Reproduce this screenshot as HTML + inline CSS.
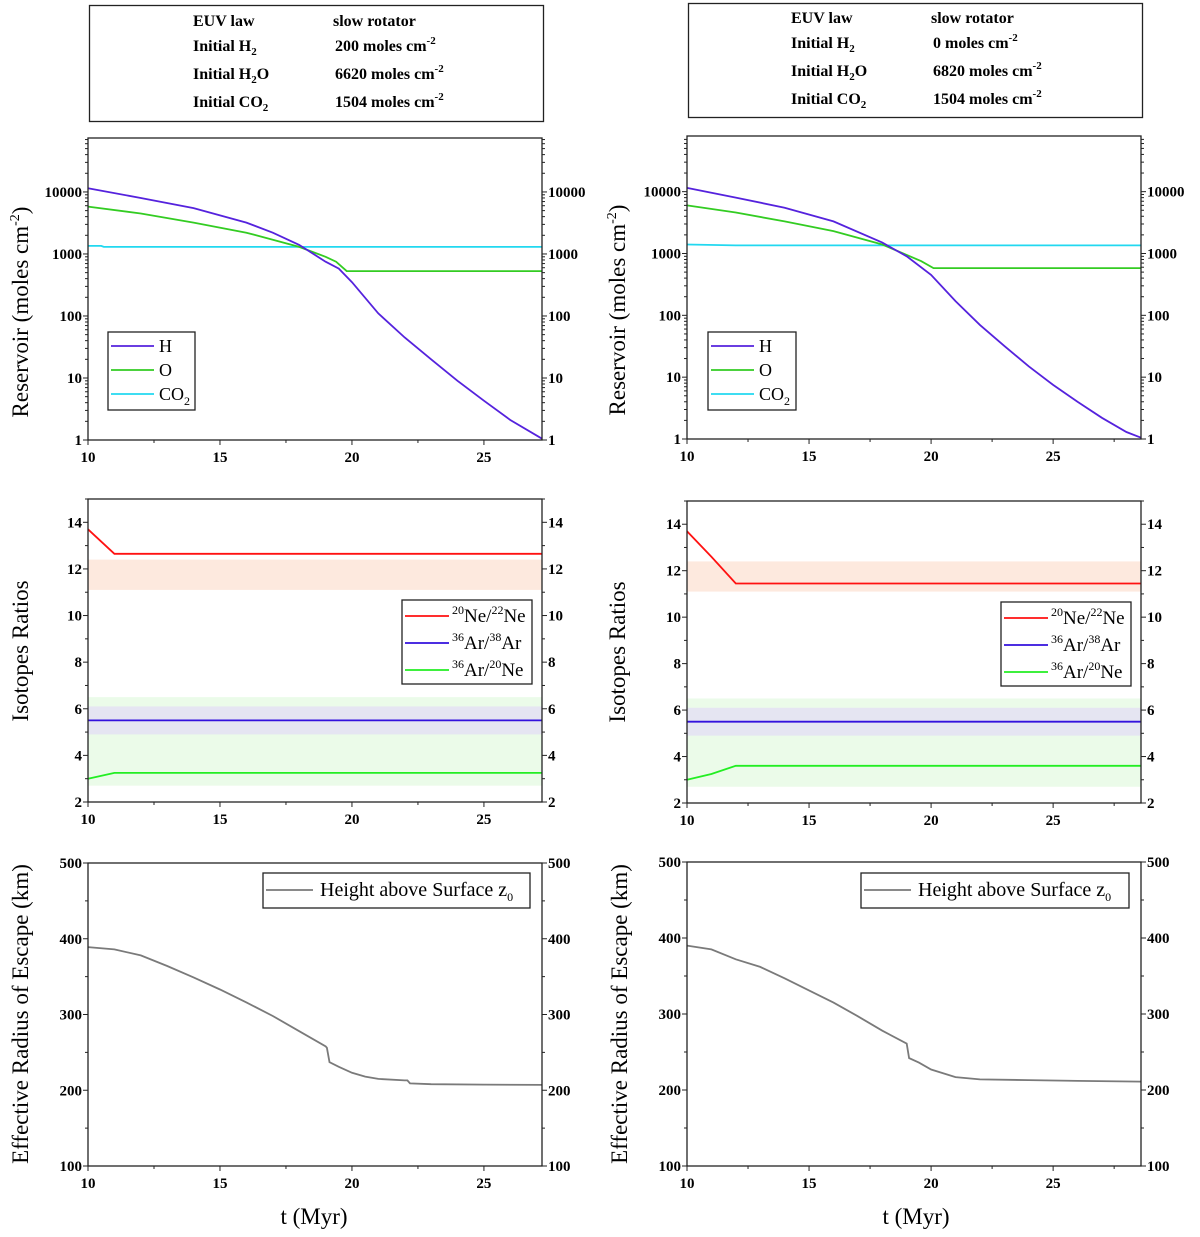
<!DOCTYPE html>
<html><head><meta charset="utf-8"><style>
html,body{margin:0;padding:0;background:#fff}
svg{display:block}
text{font-family:"Liberation Serif",serif}
.tk{font-weight:bold;font-size:15px}
</style></head><body>
<svg id="fig" width="1200" height="1237" viewBox="0 0 1200 1237" xmlns="http://www.w3.org/2000/svg">
<g>
<rect x="89.5" y="5.5" width="454" height="116" fill="#fff" stroke="#222" stroke-width="1.3"/>
<text x="193" y="26" font-weight="bold" font-size="16">EUV law</text><text x="333" y="26" font-weight="bold" font-size="16">slow rotator</text>
<text x="193" y="51" font-weight="bold" font-size="16">Initial H<tspan font-size="11" dy="4">2</tspan></text><text x="335" y="51" font-weight="bold" font-size="16">200 moles cm<tspan font-size="11" dy="-7">-2</tspan></text>
<text x="193" y="79" font-weight="bold" font-size="16">Initial H<tspan font-size="11" dy="4">2</tspan><tspan dy="-4">O</tspan></text><text x="335" y="79" font-weight="bold" font-size="16">6620 moles cm<tspan font-size="11" dy="-7">-2</tspan></text>
<text x="193" y="107" font-weight="bold" font-size="16">Initial CO<tspan font-size="11" dy="4">2</tspan></text><text x="335" y="107" font-weight="bold" font-size="16">1504 moles cm<tspan font-size="11" dy="-7">-2</tspan></text>
</g>
<g>
<rect x="688.5" y="3.5" width="454" height="114" fill="#fff" stroke="#222" stroke-width="1.3"/>
<text x="791" y="23" font-weight="bold" font-size="16">EUV law</text><text x="931" y="23" font-weight="bold" font-size="16">slow rotator</text>
<text x="791" y="48" font-weight="bold" font-size="16">Initial H<tspan font-size="11" dy="4">2</tspan></text><text x="933" y="48" font-weight="bold" font-size="16">0 moles cm<tspan font-size="11" dy="-7">-2</tspan></text>
<text x="791" y="76" font-weight="bold" font-size="16">Initial H<tspan font-size="11" dy="4">2</tspan><tspan dy="-4">O</tspan></text><text x="933" y="76" font-weight="bold" font-size="16">6820 moles cm<tspan font-size="11" dy="-7">-2</tspan></text>
<text x="791" y="104" font-weight="bold" font-size="16">Initial CO<tspan font-size="11" dy="4">2</tspan></text><text x="933" y="104" font-weight="bold" font-size="16">1504 moles cm<tspan font-size="11" dy="-7">-2</tspan></text>
</g>
</svg>
<script>
// ---- data ----
const resL_H_t=[10,12,14,16,17,18,19,19.5,20,21,22,23,24,25,26,27.2];
const resL_H_v=[11500,8000,5500,3200,2200,1400,750,580,350,110,45,20,9,4.3,2.1,1.05];
const resL_O_t=[10,12,14,16,17,18,19,19.4,19.8,27.2];
const resL_O_v=[5800,4500,3200,2200,1700,1300,900,750,530,530];
const resL_C_t=[10,10.5,10.6,27.2];
const resL_C_v=[1350,1350,1300,1300];
const resR_H_t=[10,12,14,16,18,19,20,21,22,23,24,25,26,27,28,28.6];
const resR_H_v=[11500,8000,5500,3300,1500,900,450,170,70,32,15,7.5,4,2.2,1.3,1.05];
const resR_O_t=[10,12,14,16,18,19,19.6,20.1,28.6];
const resR_O_v=[6000,4600,3300,2300,1400,950,750,580,580];
const resR_C_t=[10,12,28.6];
const resR_C_v=[1400,1350,1350];
const isoL_Ne_t=[10,11,27.2], isoL_Ne_v=[13.7,12.65,12.65];
const isoL_Ar_t=[10,27.2], isoL_Ar_v=[5.5,5.5];
const isoL_AN_t=[10,11,27.2], isoL_AN_v=[3.0,3.25,3.25];
const isoR_Ne_t=[10,11,12,28.6], isoR_Ne_v=[13.7,12.6,11.45,11.45];
const isoR_Ar_t=[10,28.6], isoR_Ar_v=[5.5,5.5];
const isoR_AN_t=[10,11,12,28.6], isoR_AN_v=[3.0,3.25,3.6,3.6];
const bands=[[2.7,6.5],[11.1,12.4],[4.9,6.1]];
const radL_t=[10,11,12,13,14,15,16,17,18,19,19.05,19.15,19.5,20,20.5,21,22,22.1,22.2,23,25,27.2];
const radL_v=[389,386,378,364,349,333,316,298,278,258,256,237,231,223,218,215,213,213,209,208,207.5,207];
const radR_t=[10,11,12,13,14,15,16,17,18,19,19.1,19.5,20,21,22,24,26,28.6];
const radR_v=[390,385,372,362,347,331,315,297,278,261,242,236,227,217,214,213,212,211];
const xTicks=[10,15,20,25];
const logTicks=[1,10,100,1000,10000];
const isoTicks=[2,4,6,8,10,12,14];
const radTicks=[100,200,300,400,500];

const svg=document.getElementById('fig');
const NS='http://www.w3.org/2000/svg';
function el(tag,attrs,parent){const e=document.createElementNS(NS,tag);for(const k in attrs)e.setAttribute(k,attrs[k]);(parent||svg).appendChild(e);return e;}

function panel(o){
  const g=el('g',{});
  
  
  const X=t=>o.x0+(t-10)/(o.xmax-10)*(o.x1-o.x0);
  const Y=o.log?(v=>o.y1-(Math.log10(v)-Math.log10(o.ymin))/(Math.log10(o.ymax)-Math.log10(o.ymin))*(o.y1-o.y0))
               :(v=>o.y1-(v-o.ymin)/(o.ymax-o.ymin)*(o.y1-o.y0));
  (o.bands||[]).forEach((b,i)=>{
    const r=el('rect',{x:o.x0,y:Y(b[1]),width:o.x1-o.x0,height:Y(b[0])-Y(b[1]),fill:o.bandCols[i]},g);
    
    
  });
  o.series.forEach(s=>{
    const p=el('polyline',{points:s.t.map((t,i)=>X(t).toFixed(1)+','+Y(s.v[i]).toFixed(1)).join(' '),fill:'none',stroke:s.c,'stroke-width':1.8},g);
    
    
  });
  el('rect',{x:o.x0,y:o.y0,width:o.x1-o.x0,height:o.y1-o.y0,fill:'none',stroke:'#222','stroke-width':1.3},g);
  for(let t=10;t<=o.xmax+1e-6;t+=2.5){
    const maj=(t%5===0);
    el('line',{x1:X(t),x2:X(t),y1:o.y1,y2:o.y1+(maj?5:3),stroke:'#222','stroke-width':1},g);
  }
  xTicks.forEach(t=>{const tx=el('text',{x:X(t),y:o.y1+22,'text-anchor':'middle',class:'tk'},g);tx.textContent=t;
    
    });
  const addY=(v,maj)=>{[[o.x0,-1],[o.x1,1]].forEach(([x,d])=>el('line',{x1:x,x2:x+d*(maj?5:3),y1:Y(v),y2:Y(v),stroke:'#222','stroke-width':1},g));};
  if(o.log){for(let d=0;d<5;d++)for(let m=1;m<10;m++){const v=m*Math.pow(10,d);if(v<=o.ymax)addY(v,m===1);}}
  else{for(let v=o.ymin;v<=o.ymax+1e-6;v+=o.minor)addY(v,Math.abs((v-o.ymin)/o.major-Math.round((v-o.ymin)/o.major))<1e-6);}
  o.ticks.forEach(v=>{
    const a=el('text',{x:o.x0-6,y:Y(v)+5,'text-anchor':'end',class:'tk'},g);a.textContent=v;
    
    
    const b=el('text',{x:o.x1+6,y:Y(v)+5,'text-anchor':'start',class:'tk'},g);b.textContent=v;
    
    
  });
  return g;
}
function ytitle(x,y,html,name){
  const t=el('text',{transform:`translate(${x},${y}) rotate(-90)`,'text-anchor':'middle','font-size':'23'});
  t.innerHTML=html;
  
  
}
function legend(x,y,w,h,items,name,fs){
  const g=el('g',{});
  
  
  el('rect',{x:x,y:y,width:w,height:h,fill:'#fff',stroke:'#222','stroke-width':1.3},g);
  items.forEach(it=>{
    el('line',{x1:x+it.lx0,x2:x+it.lx1,y1:y+it.y,y2:y+it.y,stroke:it.c,'stroke-width':1.8},g);
    const t=el('text',{x:x+it.tx,y:y+it.y+6,'font-size':fs},g);t.innerHTML=it.txt;
  });
}
const sub=s=>`<tspan font-size="12" dy="5">${s}</tspan>`;
const sup=s=>`<tspan font-size="12" dy="-8">${s}</tspan><tspan dy="8">`;
const bandCols=['#ebfbe9','#fde9de','#e5e5f2'];
panel({name:'reservoir-chart-left',x0:88,x1:542,y0:138,y1:440,xmax:27.2,log:true,ymin:1,ymax:Math.pow(10,4.87),ticks:logTicks,
  series:[{t:resL_C_t,v:resL_C_v,c:'#22d8f0',n:'co2-line'},{t:resL_O_t,v:resL_O_v,c:'#33cc22',n:'o-line'},{t:resL_H_t,v:resL_H_v,c:'#5522dd',n:'h-line'}]});
panel({name:'reservoir-chart-right',x0:687,x1:1141,y0:136,y1:439,xmax:28.6,log:true,ymin:1,ymax:Math.pow(10,4.9),ticks:logTicks,
  series:[{t:resR_C_t,v:resR_C_v,c:'#22d8f0',n:'co2-line'},{t:resR_O_t,v:resR_O_v,c:'#33cc22',n:'o-line'},{t:resR_H_t,v:resR_H_v,c:'#5522dd',n:'h-line'}]});
panel({name:'isotope-chart-left',x0:88,x1:542,y0:499,y1:802,xmax:27.2,log:false,ymin:2,ymax:15,major:2,minor:1,ticks:isoTicks,bands:bands,bandCols:bandCols,
  series:[{t:isoL_AN_t,v:isoL_AN_v,c:'#22ee22',n:'ar36-ne20-line'},{t:isoL_Ar_t,v:isoL_Ar_v,c:'#3311dd',n:'ar36-ar38-line'},{t:isoL_Ne_t,v:isoL_Ne_v,c:'#ff1111',n:'ne20-ne22-line'}]});
panel({name:'isotope-chart-right',x0:687,x1:1141,y0:501,y1:803,xmax:28.6,log:false,ymin:2,ymax:15,major:2,minor:1,ticks:isoTicks,bands:bands,bandCols:bandCols,
  series:[{t:isoR_AN_t,v:isoR_AN_v,c:'#22ee22',n:'ar36-ne20-line'},{t:isoR_Ar_t,v:isoR_Ar_v,c:'#3311dd',n:'ar36-ar38-line'},{t:isoR_Ne_t,v:isoR_Ne_v,c:'#ff1111',n:'ne20-ne22-line'}]});
panel({name:'radius-chart-left',x0:88,x1:542,y0:863,y1:1166,xmax:27.2,log:false,ymin:100,ymax:500,major:100,minor:50,ticks:radTicks,
  series:[{t:radL_t,v:radL_v,c:'#7a7a7a',n:'height-line'}]});
panel({name:'radius-chart-right',x0:687,x1:1141,y0:862,y1:1166,xmax:28.6,log:false,ymin:100,ymax:500,major:100,minor:50,ticks:radTicks,
  series:[{t:radR_t,v:radR_v,c:'#7a7a7a',n:'height-line'}]});
ytitle(28,312,'Reservoir (moles cm<tspan font-size="14" dy="-9">-2</tspan><tspan dy="9">)</tspan>','y-axis-title-reservoir-left');
ytitle(625,310,'Reservoir (moles cm<tspan font-size="14" dy="-9">-2</tspan><tspan dy="9">)</tspan>','y-axis-title-reservoir-right');
ytitle(28,651,'Isotopes Ratios','y-axis-title-isotopes-left');
ytitle(625,652,'Isotopes Ratios','y-axis-title-isotopes-right');
ytitle(28,1014,'Effective Radius of Escape (km)','y-axis-title-radius-left');
ytitle(627,1014,'Effective Radius of Escape (km)','y-axis-title-radius-right');
[[314,'x-axis-title-left'],[916,'x-axis-title-right']].forEach(([x,n])=>{const t=el('text',{x:x,y:1224,'text-anchor':'middle','font-size':'23'});t.textContent='t (Myr)';
  
  });
const resItems=[{lx0:3,lx1:46,tx:51,y:14,c:'#5522dd',txt:'H'},{lx0:3,lx1:46,tx:51,y:38,c:'#33cc22',txt:'O'},{lx0:3,lx1:46,tx:51,y:62,c:'#22d8f0',txt:'CO'+sub('2')}];
legend(108,332,87,78,resItems,'legend-reservoir-left',18);
legend(708,332,88,78,resItems,'legend-reservoir-right',18);
const isoItems=[{lx0:3,lx1:47,tx:50,y:16,c:'#ff1111',txt:sup('20')+'Ne/'+sup('22')+'Ne</tspan></tspan>'},
 {lx0:3,lx1:47,tx:50,y:43,c:'#3311dd',txt:sup('36')+'Ar/'+sup('38')+'Ar</tspan></tspan>'},
 {lx0:3,lx1:47,tx:50,y:70,c:'#22ee22',txt:sup('36')+'Ar/'+sup('20')+'Ne</tspan></tspan>'}];
legend(402,600,130,84,isoItems,'legend-isotopes-left',19);
legend(1001,602,130,84,isoItems,'legend-isotopes-right',19);
const radItems=[{lx0:3,lx1:50,tx:57,y:17,c:'#7a7a7a',txt:'Height above Surface z'+sub('0')}];
legend(263,873,267,35,radItems,'legend-radius-left',20);
legend(861,873,268,35,radItems,'legend-radius-right',20);
</script>
</body></html>
